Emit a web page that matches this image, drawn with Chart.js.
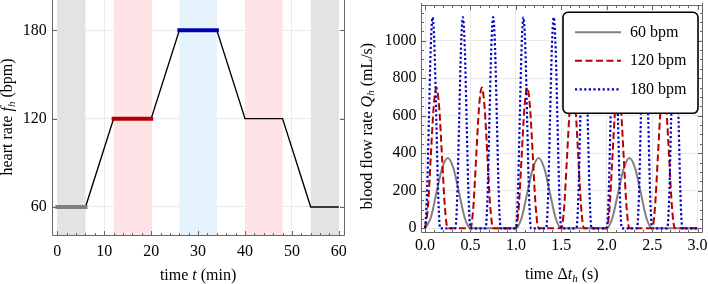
<!DOCTYPE html>
<html><head><meta charset="utf-8">
<script src="https://cdn.jsdelivr.net/npm/chart.js@4.4.1/dist/chart.umd.min.js"></script>
<style>
html,body{margin:0;padding:0;background:#fff;}
#wrap{position:relative;width:708px;height:284px;overflow:hidden;background:#fff;}
canvas{position:absolute;top:0;}
#c1{left:0;}
#c2{left:354px;}
</style></head><body>
<div id="wrap"><canvas id="c1" width="354" height="284"></canvas><canvas id="c2" width="400" height="284"></canvas></div>
<script>
// ---------- DATA: left panel (heart-rate protocol) ----------
const hrTime = [0, 6, 12, 20, 26, 34, 40, 48, 54, 60];
const hrRate = [60, 60, 120, 120, 180, 180, 120, 120, 60, 60];
const plateau60Time = [0, 6];
const plateau60Rate = [60, 60];
const plateau120Time = [12, 20];
const plateau120Rate = [120, 120];
const plateau180Time = [26, 34];
const plateau180Rate = [180, 180];
const bandStart = [0, 12, 26, 40, 54];
const bandEnd = [6, 20, 34, 48, 60];
const leftXTicks = [0, 10, 20, 30, 40, 50, 60];
const leftYTicks = [60, 120, 180];

// ---------- DATA: right panel (blood flow rate) ----------
const t60 = [0,0.0625,0.125,0.1875,0.25,0.3125,0.375,0.4375,0.5,
             1,1.0625,1.125,1.1875,1.25,1.3125,1.375,1.4375,1.5,
             2,2.0625,2.125,2.1875,2.25,2.3125,2.375,2.4375,2.5, 3];
const q60 = [0,55,188,320,375,320,188,55,0,
             0,55,188,320,375,320,188,55,0,
             0,55,188,320,375,320,188,55,0, 0];
const t120 = [0,0.03125,0.0625,0.09375,0.125,0.15625,0.1875,0.21875,0.25,
              0.5,0.53125,0.5625,0.59375,0.625,0.65625,0.6875,0.71875,0.75,
              1,1.03125,1.0625,1.09375,1.125,1.15625,1.1875,1.21875,1.25,
              1.5,1.53125,1.5625,1.59375,1.625,1.65625,1.6875,1.71875,1.75,
              2,2.03125,2.0625,2.09375,2.125,2.15625,2.1875,2.21875,2.25,
              2.5,2.53125,2.5625,2.59375,2.625,2.65625,2.6875,2.71875,2.75, 3];
const q120 = [0,110,375,640,750,640,375,110,0,
              0,110,375,640,750,640,375,110,0,
              0,110,375,640,750,640,375,110,0,
              0,110,375,640,750,640,375,110,0,
              0,110,375,640,750,640,375,110,0,
              0,110,375,640,750,640,375,110,0, 0];
const t180 = [0,0.0208,0.0417,0.0625,0.0833,0.1042,0.125,0.1458,0.1667,
              0.3333,0.3542,0.375,0.3958,0.4167,0.4375,0.4583,0.4792,0.5,
              0.6667,0.6875,0.7083,0.7292,0.75,0.7708,0.7917,0.8125,0.8333,
              1,1.0208,1.0417,1.0625,1.0833,1.1042,1.125,1.1458,1.1667,
              1.3333,1.3542,1.375,1.3958,1.4167,1.4375,1.4583,1.4792,1.5,
              1.6667,1.6875,1.7083,1.7292,1.75,1.7708,1.7917,1.8125,1.8333,
              2,2.0208,2.0417,2.0625,2.0833,2.1042,2.125,2.1458,2.1667,
              2.3333,2.3542,2.375,2.3958,2.4167,2.4375,2.4583,2.4792,2.5,
              2.6667,2.6875,2.7083,2.7292,2.75,2.7708,2.7917,2.8125,2.8333, 3];
const q180 = [0,165,563,960,1125,960,563,165,0,
              0,165,563,960,1125,960,563,165,0,
              0,165,563,960,1125,960,563,165,0,
              0,165,563,960,1125,960,563,165,0,
              0,165,563,960,1125,960,563,165,0,
              0,165,563,960,1125,960,563,165,0,
              0,165,563,960,1125,960,563,165,0,
              0,165,563,960,1125,960,563,165,0,
              0,165,563,960,1125,960,563,165,0, 0];
const seriesNames = ['60 bpm', '120 bpm', '180 bpm'];
const rightXTicks = [0, 0.5, 1, 1.5, 2, 2.5, 3];
const rightXLabels = ['0.0', '0.5', '1.0', '1.5', '2.0', '2.5', '3.0'];
const rightYTicks = [0, 200, 400, 600, 800, 1000];

// ---------- STYLE ----------
const SERIF = "'Liberation Serif', 'Times New Roman', 'DejaVu Serif', serif";
const FS = 16;
const GRID = 'rgb(234,234,234)';
const FRAME = 'rgb(102,102,102)';
const bandColors = ['rgb(227,227,227)', 'rgb(253,227,230)', 'rgb(229,243,253)', 'rgb(253,227,230)', 'rgb(227,227,227)'];
const C60 = 'rgb(128,128,128)', C120 = 'rgb(185,0,0)', C180 = 'rgb(0,0,195)';

const pts = (xs, ys) => xs.map((x, i) => ({x: x, y: ys[i]}));

function drawRich(ctx, segs, cx, cy, angle) {
  ctx.save();
  ctx.translate(cx, cy);
  ctx.rotate(angle);
  ctx.fillStyle = '#000';
  ctx.textBaseline = 'middle';
  ctx.textAlign = 'left';
  const fontOf = s => (s.it ? 'italic ' : '') + (s.sub ? 11 : FS) + 'px ' + SERIF;
  let total = 0;
  segs.forEach(s => { ctx.font = fontOf(s); total += ctx.measureText(s.t).width; });
  let x = -total / 2;
  segs.forEach(s => {
    ctx.font = fontOf(s);
    ctx.fillText(s.t, x, s.sub ? 4 : 0);
    x += ctx.measureText(s.t).width;
  });
  ctx.restore();
}

function framePlugin(o) {
  return {
    id: 'frameTicks',
    afterDatasetsDraw(chart) {
      const ctx = chart.ctx, a = chart.chartArea, xs = chart.scales.x, ys = chart.scales.y;
      ctx.save();
      ctx.strokeStyle = FRAME;
      ctx.lineWidth = 1;
      const L = Math.round(a.left) + 0.5, R = Math.round(a.right) - 0.5;
      const B = Math.round(a.bottom) - 0.5, T = Math.round(a.top) + 0.5;
      ctx.beginPath();
      ctx.moveTo(L, a.top - 2); ctx.lineTo(L, B); ctx.lineTo(R, B); ctx.lineTo(R, a.top - 2);
      if (o.top) { ctx.moveTo(L, T); ctx.lineTo(R, T); }
      const xt = (v, len) => {
        const p = Math.round(xs.getPixelForValue(v)) + 0.5;
        ctx.moveTo(p, B); ctx.lineTo(p, B - len);
        if (o.top) { ctx.moveTo(p, T); ctx.lineTo(p, T + len); }
      };
      const yt = (v, len) => {
        const p = Math.round(ys.getPixelForValue(v)) + 0.5;
        ctx.moveTo(L, p); ctx.lineTo(L + len, p);
        ctx.moveTo(R, p); ctx.lineTo(R - len, p);
      };
      o.xMajor.forEach(v => xt(v, 4.5));
      o.xMinor.forEach(v => xt(v, 2.5));
      o.yMajor.forEach(v => yt(v, 4.5));
      o.yMinor.forEach(v => yt(v, 2.5));
      ctx.stroke();
      ctx.restore();
    }
  };
}

function minorBetween(majors, step) {
  const out = [];
  for (let i = 0; i < majors.length - 1; i++) {
    for (let v = majors[i] + step; v < majors[i + 1] - step / 2; v += step) out.push(+v.toFixed(6));
  }
  return out;
}

function fixSize(prop, val) {
  return s => {
    s[prop] = val;
    s.paddingTop = 0; s.paddingBottom = 0; s.paddingLeft = 0; s.paddingRight = 0;
  };
}

const tickFont = {family: SERIF, size: FS};

// ---------- LEFT CHART ----------
new Chart(document.getElementById('c1'), {
  type: 'line',
  data: {
    datasets: [
      {data: pts(plateau60Time, plateau60Rate), borderColor: C60, borderWidth: 4, borderCapStyle: 'square', order: 1},
      {data: pts(plateau120Time, plateau120Rate), borderColor: 'rgb(178,0,0)', borderWidth: 4, borderCapStyle: 'square', order: 1},
      {data: pts(plateau180Time, plateau180Rate), borderColor: 'rgb(0,0,178)', borderWidth: 4, borderCapStyle: 'square', order: 1},
      {data: pts(hrTime, hrRate), borderColor: '#000', borderWidth: 1.4, order: 2}
    ]
  },
  options: {
    responsive: false, animation: false, events: [],
    layout: {padding: {left: 0, right: 9.5, top: 0, bottom: 0}},
    elements: {point: {radius: 0}, line: {tension: 0}},
    plugins: {legend: {display: false}, tooltip: {enabled: false}},
    scales: {
      x: {
        type: 'linear', min: -1.2, max: 61.2,
        afterBuildTicks: s => { s.ticks = leftXTicks.map(v => ({value: v})); },
        afterFit: fixSize('height', 48.3),
        grid: {color: GRID, drawTicks: false},
        border: {display: false},
        ticks: {font: tickFont, color: '#000', padding: 6, maxRotation: 0, autoSkip: false, callback: v => String(v)}
      },
      y: {
        type: 'linear', min: 40.5, max: 200.6,
        afterBuildTicks: s => { s.ticks = leftYTicks.map(v => ({value: v})); },
        afterFit: fixSize('width', 51.7),
        grid: {color: GRID, drawTicks: false},
        border: {display: false},
        ticks: {font: tickFont, color: '#000', padding: 5, autoSkip: false, callback: v => String(v)}
      }
    }
  },
  plugins: [
    {
      id: 'bands',
      beforeDatasetsDraw(chart) {
        const ctx = chart.ctx, a = chart.chartArea, xs = chart.scales.x;
        ctx.save();
        bandStart.forEach((s, i) => {
          const x0 = xs.getPixelForValue(s), x1 = xs.getPixelForValue(bandEnd[i]);
          ctx.fillStyle = bandColors[i];
          ctx.fillRect(x0, a.top, x1 - x0, a.bottom - a.top);
        });
        ctx.restore();
      }
    },
    framePlugin({top: false, xMajor: leftXTicks, xMinor: minorBetween(leftXTicks, 2), yMajor: leftYTicks, yMinor: []}),
    {
      id: 'titles',
      afterDraw(chart) {
        const ctx = chart.ctx, a = chart.chartArea;
        drawRich(ctx, [{t: 'time '}, {t: 't', it: true}, {t: ' (min)'}], (a.left + a.right) / 2, 276, 0);
        drawRich(ctx, [{t: 'heart rate '}, {t: 'f', it: true}, {t: 'h', it: true, sub: true}, {t: ' (bpm)'}], 8, 117, -Math.PI / 2);
      }
    }
  ]
});

// ---------- RIGHT CHART ----------
const rightSets = [
  {label: seriesNames[0], data: pts(t60, q60), borderColor: C60, borderWidth: 2, borderDash: [], order: 3},
  {label: seriesNames[1], data: pts(t120, q120), borderColor: C120, borderWidth: 2, borderDash: [7, 3.5], order: 2},
  {label: seriesNames[2], data: pts(t180, q180), borderColor: C180, borderWidth: 2.2, borderDash: [2.2, 2.4], order: 1}
];
new Chart(document.getElementById('c2'), {
  type: 'line',
  data: {datasets: rightSets},
  options: {
    responsive: false, animation: false, events: [],
    layout: {padding: {left: 0, right: 51, top: 5, bottom: 0}},
    elements: {point: {radius: 0}, line: {cubicInterpolationMode: 'monotone', borderCapStyle: 'butt'}},
    plugins: {legend: {display: false}, tooltip: {enabled: false}},
    scales: {
      x: {
        type: 'linear', min: -0.05, max: 3.06,
        afterBuildTicks: s => { s.ticks = rightXTicks.map(v => ({value: v})); },
        afterFit: fixSize('height', 51.5),
        grid: {color: GRID, drawTicks: false},
        border: {display: false},
        ticks: {font: tickFont, color: '#000', padding: 4, maxRotation: 0, autoSkip: false,
                callback: v => rightXLabels[rightXTicks.indexOf(v)]}
      },
      y: {
        type: 'linear', min: -22.4, max: 1190,
        afterBuildTicks: s => { s.ticks = rightYTicks.map(v => ({value: v})); },
        afterFit: fixSize('width', 66.5),
        grid: {color: GRID, drawTicks: false},
        border: {display: false},
        ticks: {font: tickFont, color: '#000', padding: 4, autoSkip: false, callback: v => String(v)}
      }
    }
  },
  plugins: [
    framePlugin({top: true, xMajor: rightXTicks, xMinor: minorBetween(rightXTicks, 0.1), yMajor: rightYTicks, yMinor: minorBetween(rightYTicks.concat([1200]), 50).filter(v => v <= 1190)}),
    {
      id: 'legendBox',
      afterDraw(chart) {
        const ctx = chart.ctx, a = chart.chartArea;
        const x1 = a.right - 5, x0 = x1 - 135, y0 = a.top + 7.3, h = 101;
        ctx.save();
        ctx.beginPath();
        ctx.roundRect(x0, y0, x1 - x0, h, 5);
        ctx.fillStyle = '#fff';
        ctx.fill();
        ctx.lineWidth = 1.6;
        ctx.strokeStyle = '#000';
        ctx.stroke();
        rightSets.forEach((d, i) => {
          const yy = y0 + 20 + i * 28.5;
          ctx.beginPath();
          ctx.setLineDash(d.borderDash);
          ctx.strokeStyle = d.borderColor;
          ctx.lineWidth = d.borderWidth;
          ctx.moveTo(x0 + 12, yy); ctx.lineTo(x0 + 58, yy);
          ctx.stroke();
          ctx.setLineDash([]);
          ctx.fillStyle = '#000';
          ctx.font = FS + 'px ' + SERIF;
          ctx.textBaseline = 'middle';
          ctx.textAlign = 'left';
          ctx.fillText(d.label, x0 + 67, yy);
        });
        ctx.restore();
        drawRich(ctx, [{t: 'time \u0394'}, {t: 't', it: true}, {t: 'h', it: true, sub: true}, {t: ' (s)'}], (a.left + a.right) / 2, 275, 0);
        drawRich(ctx, [{t: 'blood flow rate '}, {t: 'Q', it: true}, {t: 'h', it: true, sub: true}, {t: ' (mL/s)'}], 13.5, 126, -Math.PI / 2);
      }
    }
  ]
});
</script>
</body></html>
